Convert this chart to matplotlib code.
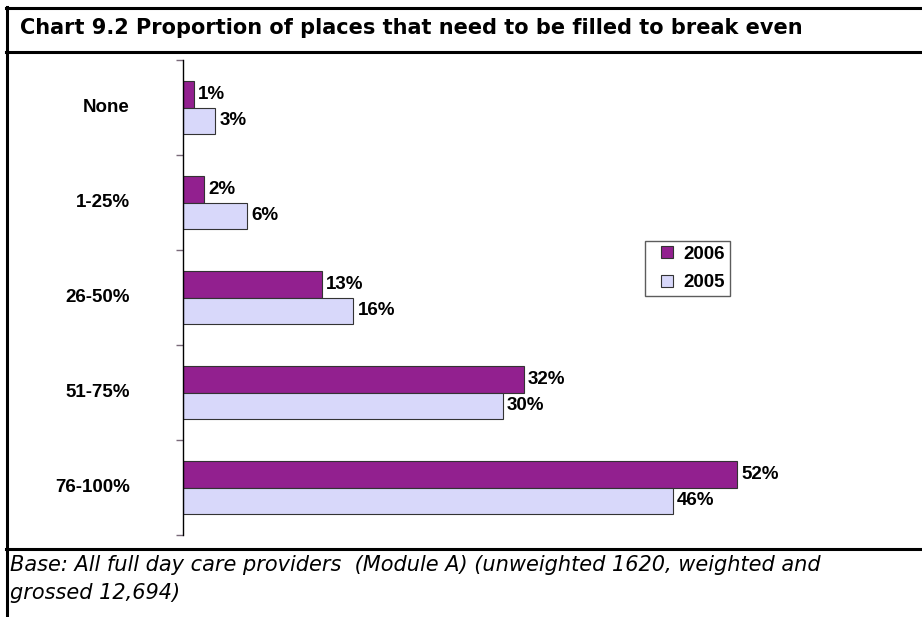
import numpy as np
import matplotlib.pyplot as plt
from matplotlib.lines import Line2D

categories = ["None", "1-25%", "26-50%", "51-75%", "76-100%"]
values_2006 = [1, 2, 13, 32, 52]
values_2005 = [3, 6, 16, 30, 46]
series_names = ["2006", "2005"]

title = "Chart 9.2 Proportion of places that need to be filled to break even"
footnote = ("Base: All full day care providers  (Module A) (unweighted 1620, weighted and\n"
            "grossed 12,694)")

W, H = 922, 617
fig = plt.figure(figsize=(W / 100, H / 100), dpi=100)


def fx(px):
    return px / W


def fy(py):
    return 1 - py / H


# frame lines
for y in (7.5, 51.5, 548.5):
    fig.add_artist(Line2D([fx(6), 1], [fy(y), fy(y)], color="black", lw=2.2))
fig.add_artist(Line2D([fx(6.5), fx(6.5)], [fy(6.5), 0], color="black", lw=2.2))

fig.text(fx(20), fy(28), title, fontsize=15, fontweight="bold",
         family="DejaVu Sans", va="center", ha="left")
fig.text(fx(10), fy(579), footnote, fontsize=15, style="italic",
         family="DejaVu Sans", va="center", ha="left", linespacing=1.45)

# plot area: 0% at x=183, 52% at x=737
x0, x52 = 183, 737
xmax = 60
x_right = x0 + (x52 - x0) / 52 * xmax
ax = fig.add_axes([fx(x0), fy(535), fx(x_right - x0), (535 - 60) / H])

n = len(categories)
y = np.arange(n)
h = 0.28
c2006 = "#92208F"
c2005 = "#D8D8FA"
edge = "#333333"
b1 = ax.barh(y - h / 2, values_2006, height=h, color=c2006, edgecolor=edge,
             linewidth=0.8, label=series_names[0])
b2 = ax.barh(y + h / 2, values_2005, height=h, color=c2005, edgecolor=edge,
             linewidth=0.8, label=series_names[1])

for bars, vals in ((b1, values_2006), (b2, values_2005)):
    for rect, v in zip(bars, vals):
        ax.annotate(f"{v}%", (v, rect.get_y() + rect.get_height() / 2),
                    xytext=(3, 0), textcoords="offset points", ha="left", va="center",
                    fontsize=13.5, fontweight="bold", family="Liberation Sans")

ax.set_xlim(0, xmax)
ax.set_ylim(n - 0.5, -0.5)
ax.set_yticks(np.arange(-0.5, n, 1))
ax.set_yticklabels([])
ax.tick_params(axis="y", length=5, color="#7a6a7a", width=1)
ax.set_xticks([])
for s in ("top", "right", "bottom"):
    ax.spines[s].set_visible(False)
ax.spines["left"].set_linewidth(1)

# category labels right-aligned in the left margin
for i, cat in enumerate(categories):
    fig.text(fx(130), fy(60 + (i + 0.5) * 95), cat, ha="right", va="center",
             fontsize=13.5, fontweight="bold", family="Liberation Sans")

handles = [Line2D([], [], marker="s", markersize=8, markerfacecolor=c, markeredgecolor=edge,
                  markeredgewidth=0.8, linestyle="none", label=lab)
           for c, lab in ((c2006, series_names[0]), (c2005, series_names[1]))]
leg = fig.legend(handles=handles, loc="upper left", borderaxespad=0,
                 bbox_to_anchor=(fx(645), fy(241)), frameon=True, fancybox=False,
                 edgecolor=edge, handlelength=1.8, handletextpad=0.0,
                 borderpad=0.25, labelspacing=0.6,
                 prop={"family": "Liberation Sans", "weight": "bold", "size": 13.5})
leg.get_frame().set_linewidth(1)

fig.savefig("out.png", dpi=100)
